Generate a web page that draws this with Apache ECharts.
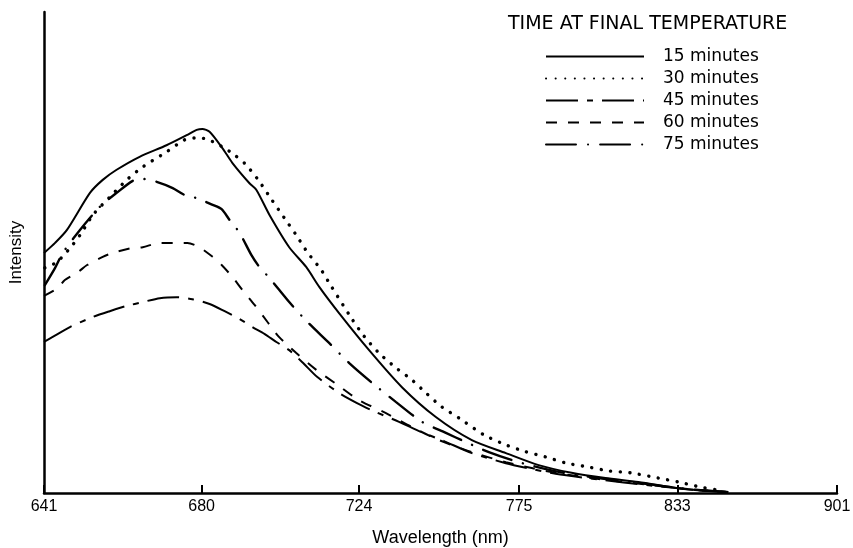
<!DOCTYPE html>
<html>
<head>
<meta charset="utf-8">
<script src="https://cdn.jsdelivr.net/npm/echarts@6.0.0/dist/echarts.min.js"></script>
<style>
html,body{margin:0;padding:0;background:#fff;}
#chart{width:853px;height:548px;}
</style>
</head>
<body>
<div id="chart"></div>
<script>
// Tick labels on the wavelength axis (nm); axis is linear in wavenumber
const tickWavelengths = [641, 680, 724, 775, 833, 901];
const legendTitle = 'TIME AT FINAL TEMPERATURE';
const seriesNames = ['15 minutes', '30 minutes', '45 minutes', '60 minutes', '75 minutes'];

// [wavelength nm, relative intensity]
const min15 = [[641.0,49.9],[643.6,52.0],[646.4,54.7],[651.9,62.4],[655.0,65.1],[658.4,67.2],[664.1,69.9],[670.9,72.3],[676.1,74.4],[678.7,75.5],[680.2,75.7],[682.1,75.1],[685.5,71.7],[688.2,68.6],[692.8,64.4],[694.7,63.0],[698.3,57.8],[703.8,51.1],[708.6,47.0],[712.4,42.8],[718.1,37.4],[727.0,29.7],[737.0,22.0],[747.6,15.8],[759.2,11.0],[770.5,8.3],[781.7,5.8],[793.3,4.2],[805.6,3.1],[817.9,2.3],[833.3,1.0],[841.3,0.6],[853.5,0.2]];
const min30 = [[641.2,46.8],[644.0,48.0],[647.1,50.9],[649.5,53.6],[652.6,57.8],[656.7,61.5],[660.9,65.1],[664.9,67.8],[670.9,70.9],[675.5,73.4],[678.1,73.8],[681.3,73.6],[686.1,71.7],[688.7,70.3],[691.4,68.6],[695.0,65.3],[698.8,61.1],[702.4,57.2],[705.8,53.6],[708.9,50.1],[712.9,46.4],[715.2,43.7],[721.7,36.4],[725.5,32.6],[730.0,29.1],[735.2,26.0],[740.1,23.5],[744.5,20.8],[749.5,17.9],[755.0,15.6],[763.1,12.1],[770.5,10.0],[776.6,8.7],[784.1,7.5],[791.5,6.2],[799.4,5.4],[806.7,4.6],[814.9,4.2],[825.6,3.1],[833.3,2.3],[842.5,1.2],[849.4,0.6]];
const min45 = [[641.0,31.4],[647.1,34.5],[652.6,36.6],[656.7,37.8],[660.9,38.9],[664.9,39.7],[669.2,40.5],[673.5,40.7],[677.6,40.3],[682.1,39.3],[686.1,37.8],[690.1,36.2],[693.6,34.5],[696.9,33.1],[700.2,31.4],[703.8,29.7],[707.5,27.2],[711.8,24.1],[718.1,20.8],[723.4,18.7],[729.1,16.8],[736.1,14.8],[742.9,12.7],[750.2,10.8],[759.2,8.3],[770.5,6.2],[779.3,5.0],[787.6,4.0],[803.1,2.8],[821.8,1.6],[841.3,0.6],[853.5,0.2]];
const min60 = [[641.0,41.0],[644.2,42.6],[645.9,44.3],[649.0,45.9],[651.2,47.4],[655.0,49.1],[657.4,49.9],[662.1,50.9],[664.9,51.1],[669.2,52.0],[672.5,52.0],[676.3,52.0],[679.4,51.1],[682.9,49.1],[685.3,47.4],[688.2,44.9],[690.9,42.2],[694.2,39.1],[697.7,35.6],[701.0,32.4],[705.8,29.1],[711.5,25.6],[717.6,22.5],[724.0,19.3],[732.1,16.6],[740.1,13.7],[748.6,11.0],[759.2,8.5],[770.5,6.4],[779.3,5.2],[787.6,4.2],[803.1,2.9],[821.8,1.7],[841.3,0.6],[853.5,0.2]];
const min75 = [[641.2,43.2],[643.6,46.8],[645.4,49.9],[649.5,54.7],[654.3,59.5],[658.4,62.4],[662.4,64.9],[664.9,65.3],[668.4,64.7],[672.5,63.4],[675.5,62.0],[678.7,61.3],[682.9,59.9],[685.3,59.0],[687.4,56.8],[690.1,54.1],[693.3,49.5],[695.5,47.0],[698.3,44.7],[703.8,39.7],[708.9,35.6],[715.2,31.2],[721.1,27.0],[727.9,22.9],[735.2,18.9],[743.2,14.8],[750.8,12.5],[757.2,10.6],[764.8,8.5],[774.9,6.4],[788.7,4.4],[803.1,3.1],[817.9,2.1],[837.3,0.8],[853.5,0.2]];

const toWn = l => 1e7 / l;
const conv = arr => arr.map(p => [toWn(p[0]), p[1]]);

const styles = [
  {type: 'solid', width: 2},
  {type: [0.1, 9.5], width: 3.4, cap: 'round'},
  {type: [32, 9, 6, 9], width: 2},
  {type: [11, 11], width: 2},
  {type: [30, 12, 0.1, 12], width: 2.4, cap: 'round'}
];
const datas = [min15, min30, min45, min60, min75];

const chart = echarts.init(document.getElementById('chart'), null, {renderer: 'canvas'});
chart.setOption({
  animation: false,
  backgroundColor: '#fff',
  title: {
    text: legendTitle, left: 508, top: 15, padding: 0,
    textStyle: {fontFamily: 'DejaVu Sans', fontSize: 19, fontWeight: 'normal', color: '#000'}
  },
  legend: {
    orient: 'vertical', left: 545, top: 48, padding: 0,
    itemWidth: 98, itemHeight: 17, itemGap: 5,
    data: seriesNames,
    itemStyle: {opacity: 0},
    textStyle: {fontFamily: 'DejaVu Sans', fontSize: 17, color: '#000', padding: [0, 0, 0, 14]},
    inactiveColor: '#000'
  },
  grid: {left: 44, right: 16, top: 12, bottom: 55, containLabel: false, outerBoundsMode: 'none'},
  xAxis: {
    type: 'value',
    inverse: true,
    min: toWn(901), max: toWn(641),
    name: 'Wavelength (nm)', nameLocation: 'middle', nameGap: 36,
    nameTextStyle: {fontFamily: 'Liberation Sans', fontSize: 18, color: '#000'},
    axisLine: {show: true, lineStyle: {color: '#000', width: 2.5}},
    axisTick: {show: true, inside: true, length: 8, lineStyle: {color: '#000', width: 2},
      customValues: tickWavelengths.map(toWn)},
    axisLabel: {show: true, margin: 6, color: '#000', fontFamily: 'Liberation Sans', fontSize: 16,
      customValues: tickWavelengths.map(toWn),
      formatter: v => String(Math.round(1e7 / v))},
    splitLine: {show: false}
  },
  yAxis: {
    type: 'value', min: 0, max: 100,
    name: 'Intensity', nameLocation: 'middle', nameGap: 19,
    nameTextStyle: {fontFamily: 'Liberation Sans', fontSize: 17, color: '#000'},
    axisLine: {show: true, lineStyle: {color: '#000', width: 2.5}},
    axisTick: {show: false}, axisLabel: {show: false}, splitLine: {show: false}
  },
  series: seriesNames.map((n, i) => ({
    name: n, type: 'line', data: conv(datas[i]),
    symbol: 'none', smooth: 0.25,
    lineStyle: Object.assign({color: '#000'}, styles[i]),
    itemStyle: {color: '#000'}
  }))
});
</script>
</body>
</html>
